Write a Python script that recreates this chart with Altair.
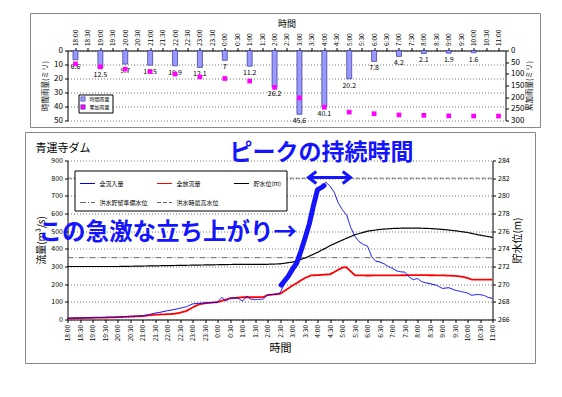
import altair as alt
import pandas as pd

FONT = "Noto Sans CJK JP"
ANN_BLUE = "#1414ff"

TIME_LABELS = ["18:00", "18:30", "19:00", "19:30", "20:00", "20:30", "21:00", "21:30",
               "22:00", "22:30", "23:00", "23:30", "0:00", "0:30", "1:00", "1:30",
               "2:00", "2:30", "3:00", "3:30", "4:00", "4:30", "5:00", "5:30",
               "6:00", "6:30", "7:00", "7:30", "8:00", "8:30", "9:00", "9:30",
               "10:00", "10:30", "11:00"]
TICK_POS = [i / 2 for i in range(len(TIME_LABELS))]
LABEL_EXPR = "[" + ",".join("'%s'" % s for s in TIME_LABELS) + "][round(datum.value * 2)]"

# ---- upper chart: rainfall (hours after 18:00) ----
RAIN_T = [0, 1, 2, 3, 4, 5, 6, 7, 8, 9, 10, 11, 12, 13, 14, 15, 16]
HOURLY_RAIN = [6.6, 12.5, 9.7, 10.5, 10.9, 12.1, 7, 11.2, 26.2, 45.6, 40.1, 20.2, 7.8, 4.2, 2.1, 1.9, 1.6]
CUM_T = [0, 1, 2, 3, 4, 5, 6, 7, 8, 9, 10, 11, 12, 13, 14, 15, 16, 17]
CUM_RAIN = [57, 70, 80, 90, 101, 113, 120, 131, 158, 203, 243, 264, 271, 276, 278, 280, 281, 281]

# ---- main chart: dam flows / level ----
INFLOW_T = [0, 0.5, 1, 1.5, 2, 2.5, 3, 3.25, 3.5, 3.75, 4, 4.25, 4.5, 4.75, 5, 5.25, 5.5, 5.75,
            6, 6.17, 6.33, 6.5, 6.67, 6.83, 7, 7.17, 7.33, 7.5, 7.67, 7.83, 8, 8.25, 8.5,
            8.67, 8.83, 9, 9.17, 9.33, 9.5, 9.67, 9.83, 10, 10.17, 10.33, 10.5, 10.67, 10.83,
            11, 11.17, 11.33, 11.5, 11.67, 11.83, 12, 12.17, 12.33, 12.5, 12.67, 12.83, 13,
            13.17, 13.33, 13.5, 13.67, 13.83, 14, 14.17, 14.33, 14.5, 14.75, 15, 15.25, 15.5,
            15.75, 16, 16.17, 16.33, 16.5, 16.67, 16.83, 17]
INFLOW = [8, 9, 10, 12, 14, 18, 22, 28, 36, 42, 50, 56, 64, 72, 88, 92, 94, 96,
          98, 125, 106, 120, 122, 120, 104, 133, 115, 112, 114, 115, 140, 142, 150,
          200, 245, 285, 315, 380, 460, 540, 640, 730, 750, 778, 755, 720, 660,
          620, 590, 520, 470, 440, 425, 415, 355, 330, 325, 315, 300, 290,
          275, 270, 268, 240, 225, 232, 214, 208, 203, 194, 176, 180, 166,
          158, 150, 137, 141, 141, 136, 125, 119]
OUTFLOW_T = [0, 0.5, 1, 1.5, 2, 2.5, 3, 3.5, 4, 4.25, 4.5, 4.75, 5, 5.25, 5.5, 6, 6.5, 7,
             7.5, 7.83, 8, 8.5, 9, 9.5, 9.75, 10, 10.5, 10.75, 11, 11.15, 11.5, 12, 13,
             14, 15, 15.5, 15.75, 16, 16.17, 17]
OUTFLOW = [6, 8, 10, 11, 13, 16, 19, 27, 30, 32, 38, 48, 68, 85, 92, 98, 120, 126,
           126, 127, 138, 145, 192, 235, 250, 251, 256, 275, 294, 296, 250, 249, 250,
           251, 250, 247, 243, 235, 226, 226]
LEVEL_T = [0, 2, 3, 4, 5, 6, 7, 8, 8.5, 9, 9.5, 10, 10.5, 11, 11.5, 12, 12.5, 13, 13.5,
           14, 14.5, 15, 15.5, 16, 16.5, 17]
LEVEL = [272.0, 272.0, 272.05, 272.1, 272.15, 272.2, 272.25, 272.25, 272.3, 272.5, 272.95,
         273.6, 274.35, 275.0, 275.6, 276.0, 276.2, 276.3, 276.35, 276.35, 276.3, 276.2,
         276.05, 275.85, 275.55, 275.3]
FLOOD_T = [0, 17]
PREP_LEVEL = 273.0
MAX_LEVEL = 282.0

# hand-drawn highlight of the steep rise, and the peak-duration arrow
RISE_T = [8.55, 8.83, 9.0, 9.17, 9.33, 9.5, 9.67, 9.83, 10.0, 10.17, 10.26]
RISE = [195, 245, 285, 320, 385, 460, 540, 640, 735, 748, 758]
ARROW_T = [9.64, 11.32]
ARROW_V = 804
PEAK_TEXT = "ピークの持続時間"
PEAK_TEXT_POS = (10.16, 940)
RISE_TEXT = "この急激な立ち上がり→"
RISE_TEXT_POS = (-1.16, 492)

SERIES = ["全流入量", "全放流量", "貯水位(m)", "洪水貯留準備水位", "洪水時最高水位"]
SERIES_COLORS = ["#0000ff", "#ff0000", "#000000", "#666666", "#666666"]
SERIES_DASH = [[1, 0], [1, 0], [1, 0], [6, 2, 1, 2], [4, 2]]

RAIN_SERIES = ["時間雨量", "累加雨量"]
RAIN_COLORS = ["#9999ff", "#ff00ff"]

one = pd.DataFrame({"k": [0]})

# ================= upper chart =================
TOP_W, TOP_H = 438, 70


def xt(field):
    return alt.X(field, scale=alt.Scale(domain=[-0.12, 17.08], nice=False, zero=False),
                 axis=alt.Axis(orient="top", values=TICK_POS, labelExpr=LABEL_EXPR,
                               labelAngle=270, labelFontSize=6.5, labelFont=FONT,
                               labelPadding=2, tickSize=3, grid=False, title="時間",
                               titleFont=FONT, titleFontSize=9, titleFontWeight="normal",
                               titlePadding=1, domainColor="#000", tickColor="#000"))


def y_rain(field):
    return alt.Y(field, scale=alt.Scale(domain=[0, 50], reverse=True, nice=False, zero=False),
                 axis=alt.Axis(orient="left", values=[0, 10, 20, 30, 40, 50], grid=True,
                               gridDash=[1, 2], gridColor="#777", labelFontSize=8,
                               labelFont=FONT, tickSize=3, title="時間雨量(ミリ)",
                               titleFont=FONT, titleFontSize=7.5, titleFontWeight="normal",
                               titlePadding=4, domainColor="#000", tickColor="#000"))


rain_color = alt.Color("rseries:N", scale=alt.Scale(domain=RAIN_SERIES, range=RAIN_COLORS),
                       legend=alt.Legend(title=None, orient="none", legendX=11, legendY=44,
                                         symbolType="square", symbolSize=20,
                                         labelFont=FONT, labelFontSize=5, padding=2,
                                         rowPadding=1, strokeColor="#000", fillColor="white",
                                         symbolStrokeWidth=0.5))

rain_df = pd.DataFrame({"t": RAIN_T, "rain": HOURLY_RAIN, "rseries": RAIN_SERIES[0]})
cum_df = pd.DataFrame({"t": CUM_T, "cum": CUM_RAIN, "rseries": RAIN_SERIES[1]})

top_frame = alt.Chart(one).mark_rect(fillOpacity=0, stroke="#888", strokeWidth=1).encode(
    x=alt.value(-37), x2=alt.value(473), y=alt.value(-37), y2=alt.value(77))

bars = alt.Chart(rain_df).mark_bar(size=5, stroke="#333399", strokeWidth=0.7).encode(
    x=xt("t:Q"), y=y_rain("rain:Q"), y2=alt.datum(0), color=rain_color)
bar_text = alt.Chart(rain_df).mark_text(baseline="top", dy=3, fontSize=7, font=FONT).encode(
    x=xt("t:Q"), y=y_rain("rain:Q"), text=alt.Text("rain:Q"))

cum_pts = alt.Chart(cum_df).mark_point(shape="square", filled=True, size=22, opacity=1).encode(
    x=xt("t:Q"),
    y=alt.Y("cum:Q", scale=alt.Scale(domain=[0, 300], reverse=True, nice=False, zero=False),
            axis=alt.Axis(orient="right", values=[0, 50, 100, 150, 200, 250, 300], grid=False,
                          labelFontSize=8, labelFont=FONT, tickSize=3, title="累加雨量(ミリ)",
                          titleFont=FONT, titleFontSize=7.5, titleFontWeight="normal",
                          titleAngle=270, titleBaseline="top", titlePadding=2,
                          domainColor="#000", tickColor="#000")),
    color=rain_color)

top = alt.layer(top_frame, alt.layer(bars, bar_text), cum_pts).resolve_scale(
    y="independent").properties(width=TOP_W, height=TOP_H)

# ================= main chart =================
MAIN_W, MAIN_H = 425, 159


def xm(field):
    return alt.X(field, scale=alt.Scale(domain=[0, 17], nice=False, zero=False),
                 axis=alt.Axis(orient="bottom", values=TICK_POS, labelExpr=LABEL_EXPR,
                               labelAngle=270, labelFontSize=6.5, labelFont=FONT,
                               labelPadding=2, tickSize=3, grid=False, title="時間",
                               titleFont=FONT, titleFontSize=11, titleFontWeight="normal",
                               titlePadding=2, domainColor="#000", tickColor="#000"))


def yf(field):
    return alt.Y(field, scale=alt.Scale(domain=[0, 900], nice=False, zero=False),
                 axis=alt.Axis(orient="left", values=list(range(0, 901, 100)), grid=True,
                               gridDash=[1, 2], gridColor="#777", labelFontSize=7,
                               labelFont=FONT, tickSize=3, title="流量(m³/s)",
                               titleFont=FONT, titleFontSize=10, titleFontWeight="normal",
                               titlePadding=4, domainColor="#000", tickColor="#000"))


def yl(field):
    return alt.Y(field, scale=alt.Scale(domain=[266, 284], nice=False, zero=False),
                 axis=alt.Axis(orient="right", values=list(range(266, 285, 2)), grid=False,
                               labelFontSize=7, labelFont=FONT, tickSize=3, title="貯水位(m)",
                               titleFont=FONT, titleFontSize=10, titleFontWeight="normal",
                               titleAngle=270, titleBaseline="top", titlePadding=3,
                               domainColor="#000", tickColor="#000"))


main_legend = alt.Legend(title=None, orient="none", legendX=7, legendY=10, columns=3,
                         direction="horizontal",
                         symbolType="stroke", symbolSize=225, symbolStrokeWidth=1,
                         labelFont=FONT, labelFontSize=6, labelLimit=150, padding=5,
                         rowPadding=8, columnPadding=6, gridAlign="all", strokeColor="#000",
                         fillColor="white", labelOffset=4)
s_color = alt.Color("series:N", scale=alt.Scale(domain=SERIES, range=SERIES_COLORS),
                    legend=main_legend)
s_dash = alt.StrokeDash("series:N", scale=alt.Scale(domain=SERIES, range=SERIES_DASH),
                        legend=main_legend)

inflow_df = pd.DataFrame({"t": INFLOW_T, "v": INFLOW, "series": SERIES[0]})
outflow_df = pd.DataFrame({"t": OUTFLOW_T, "v": OUTFLOW, "series": SERIES[1]})
level_df = pd.DataFrame({"t": LEVEL_T, "v": LEVEL, "series": SERIES[2]})
flood_df = pd.DataFrame({"t": FLOOD_T + FLOOD_T,
                         "v": [PREP_LEVEL, PREP_LEVEL, MAX_LEVEL, MAX_LEVEL],
                         "series": [SERIES[3], SERIES[3], SERIES[4], SERIES[4]]})
rise_df = pd.DataFrame({"t": RISE_T, "v": RISE})
arrow_df = pd.DataFrame({"t0": [ARROW_T[0]], "t1": [ARROW_T[1]], "v": [ARROW_V]})
arrow_l = pd.DataFrame({"t": [ARROW_T[0]], "v": [ARROW_V]})
arrow_r = pd.DataFrame({"t": [ARROW_T[1]], "v": [ARROW_V]})
peak_df = pd.DataFrame({"t": [PEAK_TEXT_POS[0]], "v": [PEAK_TEXT_POS[1]], "txt": [PEAK_TEXT]})
rise_txt_df = pd.DataFrame({"t": [RISE_TEXT_POS[0]], "v": [RISE_TEXT_POS[1]], "txt": [RISE_TEXT]})

main_frame = alt.Chart(one).mark_rect(fillOpacity=0, stroke="#888", strokeWidth=1).encode(
    x=alt.value(-42), x2=alt.value(468), y=alt.value(-28), y2=alt.value(203))
main_title = alt.Chart(one).mark_text(text="青運寺ダム", align="left", baseline="middle",
                                      font=FONT, fontSize=11).encode(
    x=alt.value(-32), y=alt.value(-12))

out_line = alt.Chart(outflow_df).mark_line(strokeWidth=1.8).encode(
    x=xm("t:Q"), y=yf("v:Q"), color=s_color, strokeDash=s_dash)
in_line = alt.Chart(inflow_df).mark_line(strokeWidth=1).encode(
    x=xm("t:Q"), y=yf("v:Q"), color=s_color, strokeDash=s_dash)
rise_line = alt.Chart(rise_df).mark_line(strokeWidth=5, color=ANN_BLUE, strokeCap="round",
                                         strokeJoin="round").encode(x=xm("t:Q"), y=yf("v:Q"))
arrow_shaft = alt.Chart(arrow_df).mark_rule(strokeWidth=3, color=ANN_BLUE).encode(
    x=xm("t0:Q"), x2=alt.X2("t1"), y=yf("v:Q"))
arrow_head_l = alt.Chart(arrow_l).mark_point(shape="M 1.3 -1 L 0 0 L 1.3 1", filled=False,
                                             size=144, strokeWidth=3, color=ANN_BLUE,
                                             opacity=1).encode(x=xm("t:Q"), y=yf("v:Q"))
arrow_head_r = alt.Chart(arrow_r).mark_point(shape="M -1.3 -1 L 0 0 L -1.3 1", filled=False,
                                             size=144, strokeWidth=3, color=ANN_BLUE,
                                             opacity=1).encode(x=xm("t:Q"), y=yf("v:Q"))
peak_text = alt.Chart(peak_df).mark_text(align="center", baseline="middle", font=FONT,
                                         fontSize=23, fontWeight="bold",
                                         color=ANN_BLUE).encode(
    x=xm("t:Q"), y=yf("v:Q"), text="txt:N")
rise_text = alt.Chart(rise_txt_df).mark_text(align="left", baseline="middle", font=FONT,
                                             fontSize=23.5, fontWeight="bold",
                                             color=ANN_BLUE).encode(
    x=xm("t:Q"), y=yf("v:Q"), text="txt:N")

flow_group = alt.layer(out_line, in_line, rise_line, arrow_shaft, arrow_head_l, arrow_head_r,
                       peak_text, rise_text)

flood_lines = alt.Chart(flood_df).mark_line(strokeWidth=1).encode(
    x=xm("t:Q"), y=yl("v:Q"), color=s_color, strokeDash=s_dash)
level_line = alt.Chart(level_df).mark_line(strokeWidth=1.2).encode(
    x=xm("t:Q"), y=yl("v:Q"), color=s_color, strokeDash=s_dash)
level_group = alt.layer(flood_lines, level_line)

main = alt.layer(main_frame, main_title, level_group, flow_group).resolve_scale(
    y="independent").properties(width=MAIN_W, height=MAIN_H)

chart = alt.vconcat(top, main, spacing=3).resolve_scale(
    color="independent", strokeDash="independent").properties(
    padding={"left": 16.5, "top": 4.5, "right": 2, "bottom": 2},
    background="white").configure_view(strokeWidth=0).configure_axis(
    labelColor="#000", titleColor="#000")

chart.save("out.html", embed_options={"renderer": "svg", "actions": False})
